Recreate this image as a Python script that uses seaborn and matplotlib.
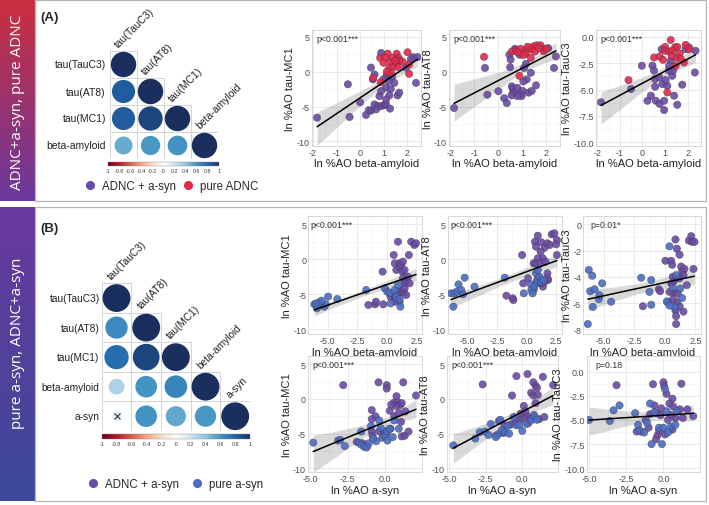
import numpy as np
import pandas as pd
import matplotlib
matplotlib.use("Agg")
import matplotlib.pyplot as plt
import seaborn as sns
from matplotlib.patches import Rectangle, Circle
from matplotlib.colors import LinearSegmentedColormap, Normalize
from matplotlib.cm import ScalarMappable
from matplotlib.lines import Line2D
from matplotlib.ticker import FixedLocator, AutoMinorLocator

W, H = 709, 506

sns.set_theme(style="white")
plt.rcParams['font.family'] = ['Liberation Sans', 'DejaVu Sans']
plt.rcParams['axes.unicode_minus'] = False

PURPLE = "#6b4aa6"
RED = "#e2284c"
BLUE = "#4a6cc4"

# ---------------- correlation matrices (lower triangle, diagonal = 1)
A_LABELS = ["tau(TauC3)", "tau(AT8)", "tau(MC1)", "beta-amyloid"]
A_CORR = [[1.0],
          [0.83, 1.0],
          [0.83, 0.92, 1.0],
          [0.50, 0.58, 0.60, 1.0]]

B_LABELS = ["tau(TauC3)", "tau(AT8)", "tau(MC1)", "beta-amyloid", "a-syn"]
B_CORR = [[1.0],
          [0.64, 1.0],
          [0.76, 0.92, 1.0],
          [0.32, 0.60, 0.66, 1.0],
          [0.12, 0.60, 0.52, 0.58, 1.0]]
B_NONSIG = [(4, 0)]

# ---------------- panel A scatter data (x = ln %AO beta-amyloid)
A_MC1_MIX = [(-1.83, -6.6), (-0.52, -1.8), (-0.45, -6.5), (0.0, -4.4), (0.46, 0.6), (0.61, -0.4),
             (0.54, -1.1), (0.89, 2.7), (1.13, -0.5), (1.35, -0.7), (1.45, -1.6), (1.1, -2.3),
             (1.3, -2.5), (1.59, -3.4), (1.24, -3.4), (0.82, -3.5), (0.89, -2.8), (0.61, -4.7),
             (0.75, -4.95), (0.89, -4.95), (1.03, -4.8), (1.1, -4.7), (1.27, -5.3), (0.68, -5.4),
             (0.46, -5.6), (0.25, -6.2), (0.37, -5.5), (1.94, 0.6), (2.37, -1.6), (2.25, 2.1),
             (2.44, 2.1), (2.15, 1.8), (1.66, -3.0), (1.1, -4.0), (0.99, -1.1), (1.21, -1.35)]
A_MC1_PURE = [(1.17, 2.6), (1.55, 2.6), (2.01, 2.8), (0.85, 2.0), (1.07, 2.0), (1.38, 2.0),
              (1.63, 2.0), (0.99, 1.3), (1.31, 1.4), (1.55, 1.15), (1.69, 1.6), (1.24, 0.6),
              (1.41, 0.7), (1.31, -0.15), (2.08, 1.05), (2.08, -0.3), (0.55, -0.9), (1.13, 0.0),
              (1.6, 0.7), (1.8, 1.45), (1.49, 1.6), (0.87, -1.5)]

A_AT8_MIX = [(-1.85, -5.2), (-0.56, 0.55), (-0.46, -3.3), (0.0, -2.8), (0.24, -3.8), (0.35, -4.5),
             (0.46, 2.45), (0.51, 1.75), (0.49, 0.65), (0.56, -2.1), (0.6, -2.5), (0.63, -3.0),
             (0.79, -2.3), (1.01, -2.75), (0.97, -3.5), (0.9, -3.2), (1.07, 0.55), (1.15, 1.15),
             (1.18, -1.1), (1.35, -0.15), (1.26, -3.0), (1.39, -2.75), (1.57, -1.95), (1.94, 3.2),
             (2.08, 3.4), (2.4, 2.2), (2.32, 0.55), (0.69, 3.3), (0.88, 2.45), (1.04, -1.4),
             (0.79, -3.5), (0.55, -3.4)]
A_AT8_PURE = [(-0.6, 2.15), (0.56, 2.9), (0.74, 3.1), (0.93, 3.3), (1.11, 2.95), (1.29, 3.3),
              (1.46, 3.65), (1.6, 3.8), (1.76, 3.8), (1.39, 3.2), (1.53, 2.9), (1.15, 2.6),
              (0.88, -0.6), (1.35, 2.0), (1.88, 2.95), (2.01, 3.3), (1.04, 2.4), (1.7, 3.4),
              (1.22, 3.6), (0.8, 2.8)]

A_TC3_MIX = [(-1.84, -6.2), (-0.51, -4.95), (-0.03, -2.74), (0.44, -2.74), (0.51, -3.2), (0.56, -4.0),
             (0.56, -4.73), (0.37, -5.58), (0.22, -6.06), (0.59, -6.06), (0.76, -6.37), (0.96, -6.06),
             (0.96, -6.94), (0.88, -4.48), (1.1, -4.64), (1.32, -3.69), (1.18, -3.2), (1.35, -3.2),
             (1.25, -2.27), (1.4, -5.58), (1.54, -6.44), (1.76, -4.54), (0.85, -1.17), (1.91, -1.17),
             (2.35, -1.32), (2.32, -3.38), (2.06, -1.0), (1.03, -4.1), (0.74, -3.85), (1.18, -2.74)]
A_TC3_PURE = [(1.25, -0.3), (1.0, -0.95), (1.44, -1.0), (1.54, -0.95), (1.91, -0.76), (2.06, -1.17),
              (0.51, -1.96), (0.76, -1.86), (1.0, -1.32), (1.18, -1.39), (1.32, -1.32), (1.65, -1.58),
              (1.84, -2.43), (1.47, -2.74), (-0.62, -4.1), (1.1, -5.27), (1.5, -1.96), (1.69, -2.1),
              (0.91, -2.18), (1.29, -1.8)]

# ---------------- panel B, top row (x = ln %AO beta-amyloid)
B_MC1_MIX = [(-0.36, -1.76), (-1.0, -6.43), (-1.56, -6.52), (-0.92, -6.05), (-0.31, -6.43), (0.58, 0.62),
             (0.67, -0.57), (0.94, 2.52), (0.8, -1.52), (1.08, -0.57), (1.08, -1.19), (1.22, -0.81),
             (1.36, -0.33), (1.31, -1.76), (1.36, -2.71), (1.5, -3.43), (1.64, -2.95), (1.78, -2.48),
             (1.86, 0.62), (2.06, 2.52), (2.33, 2.05), (2.47, 2.29), (1.5, -1.52), (0.31, -5.33),
             (0.47, -4.86), (0.67, -5.67), (0.94, -5.1), (1.08, -4.71), (1.22, -4.52), (1.42, -4.71),
             (1.08, -6.05), (1.5, -4.14), (1.64, -5.1), (0.67, -6.05), (1.92, -3.43)]
B_MC1_PURE = [(-6.14, -6.43), (-5.92, -7.0), (-5.72, -6.14), (-5.53, -6.52), (-5.3, -6.76), (-5.17, -6.43),
              (-4.97, -5.33), (-4.2, -5.67), (-1.75, -4.38), (-0.17, -4.14), (0.03, -4.62), (0.25, -4.76),
              (0.67, -4.38), (0.94, -3.67), (0.8, -5.33), (1.08, -5.67), (1.14, -6.76), (0.31, -6.29),
              (-5.53, -5.9), (-6.0, -6.3)]

B_AT8_MIX = [(-1.71, -5.19), (-1.18, -5.57), (-1.12, -5.81), (-0.38, 0.62), (-0.29, -3.43), (0.12, -2.71),
             (0.59, -0.57), (0.71, 2.52), (0.79, 1.81), (0.94, 3.38), (1.24, 2.43), (1.53, 1.67),
             (1.76, 2.29), (1.97, 2.05), (2.12, 3.57), (2.35, 3.71), (2.56, 2.76), (2.56, 0.62),
             (2.5, 2.14), (1.18, 1.1), (1.38, 0.14), (0.94, 0.14), (0.79, -0.57), (1.18, -0.57),
             (1.59, -0.33), (1.76, -2.0), (1.82, -2.95), (1.38, -3.9), (1.18, -3.43), (0.79, -3.43),
             (0.59, -4.38), (1.0, -2.71), (1.53, -3.19), (1.76, -2.71)]
B_AT8_PURE = [(-6.4, -4.86), (-6.1, -4.86), (-6.2, -6.76), (-5.9, -4.62), (-5.76, -3.57), (-5.53, -4.38),
              (-5.38, -5.0), (-5.24, -2.62), (-4.41, -3.9), (-1.85, -2.62), (-0.24, -4.86), (0.35, -3.57),
              (0.41, -4.38), (0.65, -3.9), (0.79, -2.0), (0.88, -2.95), (1.09, -2.48), (1.24, -3.29),
              (1.38, -2.95), (0.5, -4.86), (0.94, -1.52)]

B_TC3_MIX = [(-1.79, -6.24), (-0.49, -4.95), (-0.38, -5.1), (0.05, -2.78), (0.52, -2.78), (0.6, -3.09),
             (0.87, -1.16), (0.98, -1.86), (1.2, -2.32), (1.33, -3.22), (1.41, -3.56), (1.6, -3.4),
             (1.52, -3.87), (1.2, -4.12), (0.79, -4.25), (0.65, -4.0), (0.52, -4.51), (0.71, -5.2),
             (1.06, -5.28), (0.98, -5.93), (0.87, -6.57), (0.92, -7.0), (0.65, -5.72), (0.24, -5.93),
             (1.52, -6.65), (1.2, -6.24), (1.96, -1.24), (2.15, -0.9), (2.23, -1.34), (2.42, -1.34),
             (2.34, -3.4), (1.79, -4.64), (0.92, -7.6), (0.38, -5.15), (0.65, -4.43)]
B_TC3_PURE = [(-6.2, -3.48), (-5.92, -3.92), (-6.09, -5.1), (-6.28, -7.6), (-5.73, -4.95), (-5.87, -6.3),
              (-5.38, -5.7), (-5.33, -5.4), (-5.11, -4.5), (-4.38, -5.9), (-1.93, -4.07), (-1.25, -5.15),
              (-1.11, -4.25), (-1.11, -6.13), (0.16, -5.88), (0.38, -1.68), (0.65, -4.85), (0.79, -6.31),
              (1.25, -4.9), (1.41, -5.62), (0.92, -3.87), (0.38, -6.19)]

# ---------------- panel B, bottom row (x = ln %AO a-syn)
S_MC1_MIX = [(-2.8, 2.0), (-0.45, 2.4), (0.1, 2.0), (0.1, 1.5), (1.2, 2.4), (2.05, 0.5), (0.75, 0.4),
             (0.6, -0.5), (0.85, -0.5), (1.0, -0.9), (1.1, -0.6), (0.7, -1.0), (0.3, -1.7), (1.35, -1.8),
             (0.4, -0.8), (-0.9, -1.6), (-0.65, -2.5), (-0.9, -2.9), (-0.4, -4.7), (-0.1, -5.0),
             (-0.9, -4.7), (-0.85, -5.3), (0.1, -4.8), (0.35, -4.3), (1.1, -5.4), (1.3, -5.3),
             (1.55, -4.7), (-1.5, -6.4), (-1.9, -6.2), (-1.2, -6.8), (-0.05, -5.4), (0.6, -2.5),
             (0.9, -2.0), (1.05, -3.3)]
S_MC1_PURE = [(-4.8, -6.3), (-3.15, -6.0), (-3.0, -5.9), (-2.7, -6.8), (-1.6, -4.7), (-1.75, -6.3),
              (-1.6, -6.6), (-1.4, -6.9), (-1.25, -7.0), (-1.1, -6.4), (-0.95, -3.9), (-0.4, -3.1),
              (-0.2, -5.6), (0.0, -5.3), (0.1, -4.6), (0.3, -4.3), (0.15, -6.0), (-0.6, -6.1),
              (-0.8, -5.7), (0.6, -3.1), (0.9, -4.3), (0.5, -5.5), (-0.3, -4.2)]

S_AT8_MIX = [(-2.7, 2.1), (-0.4, 3.3), (0.35, 3.6), (0.75, 2.4), (0.9, 1.9), (1.0, 1.6), (1.4, 3.2),
             (2.1, 2.0), (-0.7, 0.5), (0.6, 0.9), (0.75, 0.5), (1.05, 0.6), (0.9, -0.6), (0.1, -1.0),
             (-0.1, -2.1), (0.3, -2.4), (0.55, -2.8), (0.8, -2.5), (1.15, -2.9), (1.5, -2.6),
             (0.0, -2.8), (-0.5, -3.4), (-0.8, -3.7), (-1.2, -3.8), (-1.6, -3.2), (-1.3, -4.9),
             (-0.2, -3.0), (0.4, -3.5), (0.2, -1.8)]
S_AT8_PURE = [(-4.7, -6.7), (-3.2, -5.7), (-2.9, -4.8), (-2.55, -4.7), (-2.3, -5.2), (-1.8, -5.3),
              (-1.65, -5.1), (-1.8, -5.5), (-1.5, -3.0), (-1.4, -4.5), (-1.2, -4.8), (-1.0, -3.9),
              (-0.9, -5.0), (-0.6, -2.6), (-0.4, -3.8), (-0.2, -3.7), (0.0, -4.6), (0.3, -3.6),
              (0.6, -3.1), (0.8, -2.3), (1.0, -3.0), (-2.15, -3.6)]

S_TC3_MIX = [(-3.15, -1.4), (-0.7, -1.3), (0.0, -1.1), (0.05, -1.5), (0.2, -2.3), (-1.8, -6.2),
             (-1.5, -6.2), (-1.0, -5.8), (-0.9, -4.4), (-0.6, -3.5), (-0.45, -4.3), (-0.2, -4.5),
             (-0.4, -6.6), (-0.5, -7.0), (0.1, -6.5), (0.3, -5.0), (0.4, -3.3), (0.6, -2.8),
             (0.65, -3.6), (0.8, -4.8), (1.2, -1.25), (1.1, -3.9), (0.6, -6.0), (1.3, -4.8),
             (1.6, -3.9), (2.0, -4.6), (-0.15, -3.8), (0.5, -4.5), (-1.2, -5.0), (-0.3, -6.1)]
S_TC3_PURE = [(-5.0, -5.0), (-3.6, -5.1), (-3.35, -4.0), (-2.95, -3.5), (-1.9, -4.3), (-1.7, -5.5),
              (-1.6, -6.1), (-1.3, -6.3), (-0.9, -3.3), (-0.8, -7.5), (-0.3, -5.8), (-0.1, -7.5),
              (0.0, -5.8), (0.1, -1.8), (0.2, -4.1), (0.5, -5.7), (0.8, -5.5), (0.9, -4.1),
              (-1.1, -5.3), (-0.6, -4.2), (0.3, -6.3)]

CORR_CMAP = LinearSegmentedColormap.from_list(
    "corr", ["#67001F", "#B2182B", "#D6604D", "#F4A582", "#FDDBC7", "#FFFFFF",
             "#D1E5F0", "#92C5DE", "#4393C3", "#2166AC", "#1B2F5E"])
NORM = Normalize(-1, 1)


def px_axes(fig, x0, y0, x1, y1):
    return fig.add_axes([x0 / W, 1 - y1 / H, (x1 - x0) / W, (y1 - y0) / H])


def scatter_panel(fig, box, mix, other, other_col, xlim, ylim, xt, xtl, yt, ytl,
                  xlabel, ylabel, ptext, px):
    ax = px_axes(fig, *box)
    df = pd.DataFrame(mix + other, columns=["x", "y"])
    df["grp"] = ["mix"] * len(mix) + ["other"] * len(other)
    sns.scatterplot(data=df, x="x", y="y", hue="grp",
                    palette={"mix": PURPLE, "other": other_col},
                    s=28, edgecolor="#3c3c3c", linewidth=0.3, alpha=0.9,
                    legend=False, ax=ax, zorder=3)
    sns.regplot(data=df, x="x", y="y", scatter=False, color="black", seed=7,
                line_kws={"lw": 1.1, "zorder": 4}, ax=ax)
    ax.set_xlim(*xlim)
    ax.set_ylim(*ylim)
    ax.xaxis.set_major_locator(FixedLocator(xt))
    ax.set_xticklabels(xtl)
    ax.yaxis.set_major_locator(FixedLocator(yt))
    ax.set_yticklabels(ytl)
    ax.xaxis.set_minor_locator(AutoMinorLocator(2))
    ax.yaxis.set_minor_locator(AutoMinorLocator(2))
    ax.grid(True, which="major", color="#e6e6e6", lw=0.6)
    ax.grid(True, which="minor", color="#f2f2f2", lw=0.4)
    ax.set_axisbelow(True)
    ax.tick_params(which="both", length=0, labelsize=6.5, labelcolor="#4d4d4d", pad=1.5)
    for sp in ax.spines.values():
        sp.set_color("#d2d2d2")
        sp.set_linewidth(0.6)
    ax.set_xlabel(xlabel, fontsize=8, color="#222222", labelpad=1)
    ax.set_ylabel(ylabel, fontsize=8, color="#222222", labelpad=1)
    ax.text(px, 0.927, ptext, transform=ax.transAxes, fontsize=6.3,
            color="#333333", va="center", ha="left")
    return ax


def corr_panel(fig, box, labels, corr, nonsig, fs, lab_gap):
    ax = px_axes(fig, *box)
    n = len(labels)
    for i in range(n):
        for j in range(i + 1):
            r = corr[i][j]
            ax.add_patch(Rectangle((j, i), 1, 1, fill=False, ec="#d4d4d4", lw=0.7))
            ax.add_patch(Circle((j + 0.5, i + 0.5), 0.47 * np.sqrt(abs(r)),
                                fc=CORR_CMAP(NORM(r)), ec="none"))
            if (i, j) in nonsig:
                ax.plot(j + 0.5, i + 0.5, marker="x", ms=4.5, mew=0.8, color="#333333")
    for i, lab in enumerate(labels):
        ax.text(-lab_gap, i + 0.5, lab, ha="right", va="center", fontsize=fs,
                color="#222222", clip_on=False)
        ax.text(i + 0.38, i - 0.08, lab, ha="left", va="bottom", rotation=45,
                rotation_mode="anchor", fontsize=fs, color="#222222", clip_on=False)
    ax.set_xlim(0, n)
    ax.set_ylim(n, 0)
    ax.axis("off")
    return ax


def corr_bar(fig, box):
    cax = px_axes(fig, *box)
    cb = fig.colorbar(ScalarMappable(norm=NORM, cmap=CORR_CMAP), cax=cax,
                      orientation="horizontal")
    ticks = np.round(np.arange(-1, 1.01, 0.2), 1)
    cb.set_ticks(ticks)
    cb.set_ticklabels([f"{t:g}" for t in ticks])
    cb.ax.tick_params(length=0, labelsize=3.8, pad=1.2, labelcolor="#333333")
    cb.outline.set_linewidth(0.3)
    cb.outline.set_edgecolor("#888888")


def side_bar(fig, box, c_top, c_bot, text, ty):
    ax = px_axes(fig, *box)
    grad = np.linspace(0, 1, 256).reshape(-1, 1)
    ax.imshow(grad, aspect="auto", cmap=LinearSegmentedColormap.from_list("g", [c_top, c_bot]),
              extent=(0, 1, 1, 0))
    ax.axis("off")
    fig.text((box[0] + box[2]) / 2 / W, 1 - ty / H, text, rotation=90, color="white",
             fontsize=11, ha="center", va="center", family=["Open Sans", "DejaVu Sans"])


fig = plt.figure(figsize=(W / 100, H / 100), dpi=100)
fig.patch.set_facecolor("white")

# panel frames and side bars
for (y0, y1) in [(1, 202), (208, 502)]:
    fig.add_artist(Rectangle((35 / W, 1 - y1 / H), (706 - 35) / W, (y1 - y0) / H,
                             transform=fig.transFigure, fill=False, ec="#b4b4b4", lw=0.9))
side_bar(fig, (0, 0, 35, 202), "#cc2f3c", "#6a389e", "ADNC+a-syn, pure ADNC", 102)
side_bar(fig, (0, 208, 35, 502), "#6a389e", "#3b4a98", "pure a-syn, ADNC+a-syn", 343)

fig.text(40 / W, 1 - 18 / H, "(A)", fontsize=9.5, fontweight="bold", va="center")
fig.text(40 / W, 1 - 229 / H, "(B)", fontsize=9.5, fontweight="bold", va="center")

# ---- panel A
corr_panel(fig, (110, 52, 218, 160), A_LABELS, A_CORR, [], 7.5, 0.15)
corr_bar(fig, (108, 163, 219, 167))
fig.legend(handles=[Line2D([], [], ls="", marker="o", ms=5.5, color=PURPLE, label="ADNC + a-syn"),
                    Line2D([], [], ls="", marker="o", ms=5.5, color=RED, label="pure ADNC")],
           loc="center", bbox_to_anchor=(172 / W, 1 - 187 / H), ncol=2, frameon=False,
           fontsize=8.3, handlelength=0.8, handletextpad=0.6, columnspacing=0.7)

beta_ticks = [-2, -1, 0, 1, 2]
beta_lbls = ["-2", "-1", "0", "1", "2"]
alim = (-2.06, 2.57)
int_ticks = [-10, -5, 0, 5]
int_lbls = ["-10", "-5", "0", "5"]
scatter_panel(fig, (311.6, 31, 420.7, 147), A_MC1_MIX, A_MC1_PURE, RED, alim, (-10.67, 6.0),
              beta_ticks, beta_lbls, int_ticks, int_lbls,
              "ln %AO beta-amyloid", "ln %AO tau-MC1", "p<0.001***", 0.04)
scatter_panel(fig, (449, 31, 560, 147), A_AT8_MIX, A_AT8_PURE, RED, alim, (-10.67, 6.0),
              beta_ticks, beta_lbls, int_ticks, int_lbls,
              "ln %AO beta-amyloid", "ln %AO tau-AT8", "p<0.001***", 0.04)
scatter_panel(fig, (596, 31, 700.5, 147), A_TC3_MIX, A_TC3_PURE, RED, alim, (-10.35, 0.65),
              beta_ticks, beta_lbls, [-10, -7.5, -5, -2.5, 0],
              ["-10.0", "-7.5", "-5.0", "-2.5", "0.0"],
              "ln %AO beta-amyloid", "ln %AO tau-TauC3", "p<0.001***", 0.04)

# ---- panel B
corr_panel(fig, (101.7, 284.3, 250, 432), B_LABELS, B_CORR, B_NONSIG, 7.3, 0.07)
corr_bar(fig, (102, 435, 250, 440))
fig.legend(handles=[Line2D([], [], ls="", marker="o", ms=5.5, color=PURPLE, label="ADNC + a-syn"),
                    Line2D([], [], ls="", marker="o", ms=5.5, color=BLUE, label="pure a-syn")],
           loc="center", bbox_to_anchor=(176 / W, 1 - 485 / H), ncol=2, frameon=False,
           fontsize=8.3, handlelength=0.8, handletextpad=0.6, columnspacing=1.2)

blim = (-6.65, 2.95)
b_ticks = [-5, -2.5, 0, 2.5]
b_lbls = ["-5.0", "-2.5", "0.0", "2.5"]
scatter_panel(fig, (308.3, 217, 421.7, 335.3), B_MC1_MIX, B_MC1_PURE, BLUE, blim, (-10.71, 6.19),
              b_ticks, b_lbls, int_ticks, int_lbls,
              "ln %AO beta-amyloid", "ln %AO tau-MC1", "p<0.001***", 0.02)
scatter_panel(fig, (448, 217, 561.5, 335.3), B_AT8_MIX, B_AT8_PURE, BLUE, blim, (-10.71, 6.19),
              b_ticks, b_lbls, int_ticks, int_lbls,
              "ln %AO beta-amyloid", "ln %AO tau-AT8", "p<0.001***", 0.02)
scatter_panel(fig, (583.3, 217, 701, 335.3), B_TC3_MIX, B_TC3_PURE, BLUE, blim, (-8.38, 0.63),
              b_ticks, b_lbls, [-8, -6, -4, -2, 0], ["-8", "-6", "-4", "-2", "0"],
              "ln %AO beta-amyloid", "ln %AO tau-TauC3", "p=0.01*", 0.06)

slim = (-5.15, 2.45)
s_ticks = [-5, -2.5, 0]
s_lbls = ["-5.0", "-2.5", "0.0"]
scatter_panel(fig, (308, 357, 422, 473.3), S_MC1_MIX, S_MC1_PURE, BLUE, slim, (-10.58, 6.2),
              s_ticks, s_lbls, int_ticks, int_lbls,
              "ln %AO a-syn", "ln %AO tau-MC1", "p<0.001***", 0.04)
scatter_panel(fig, (446.7, 357, 558.3, 473.3), S_AT8_MIX, S_AT8_PURE, BLUE, slim, (-10.58, 6.2),
              s_ticks, s_lbls, int_ticks, int_lbls,
              "ln %AO a-syn", "ln %AO tau-AT8", "p<0.001***", 0.045)
scatter_panel(fig, (586.7, 357, 700, 473.3), S_TC3_MIX, S_TC3_PURE, BLUE, slim, (-10.42, 1.62),
              s_ticks, s_lbls, [-10, -7.5, -5, -2.5, 0],
              ["-10.0", "-7.5", "-5.0", "-2.5", "0.0"],
              "ln %AO a-syn", "ln %AO tau-TauC3", "p=0.18", 0.08)

fig.savefig("out.png", dpi=100, facecolor="white")
